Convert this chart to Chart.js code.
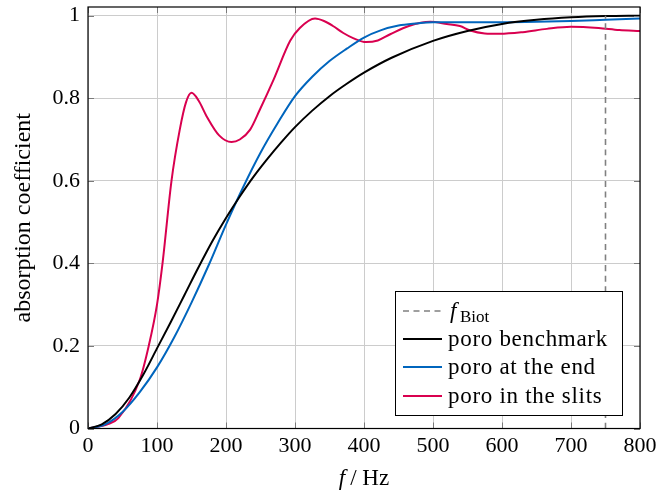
<!DOCTYPE html>
<html>
<head>
<meta charset="utf-8">
<script src="https://cdn.jsdelivr.net/npm/chart.js@4"></script>
<style>
  html, body { margin: 0; padding: 0; background: #fff; }
  #wrap { width: 660px; height: 492px; }
</style>
</head>
<body>
<div id="wrap"><canvas id="chart" width="660" height="492"></canvas></div>
<script>
// frequencies (Hz) and absorption values
const benchmarkF = [0, 20, 40, 60, 80, 100, 120, 140, 160, 180, 200, 220, 240, 260, 280, 300, 325, 350, 375, 400, 440, 500, 550, 600, 650, 700, 750, 800];
const benchmarkA = [0, 0.01, 0.035, 0.075, 0.13, 0.194, 0.258, 0.324, 0.39, 0.453, 0.51, 0.562, 0.61, 0.653, 0.693, 0.73, 0.77, 0.805, 0.835, 0.862, 0.898, 0.939, 0.963, 0.98, 0.99, 0.996, 0.999, 1.0];

const endF = [0, 25, 50, 75, 100, 125, 150, 175, 200, 225, 250, 275, 300, 325, 350, 375, 400, 425, 450, 475, 500, 600, 650, 700, 750, 800];
const endA = [0, 0.01, 0.04, 0.088, 0.148, 0.221, 0.305, 0.396, 0.494, 0.585, 0.668, 0.74, 0.805, 0.852, 0.89, 0.92, 0.947, 0.965, 0.976, 0.981, 0.984, 0.984, 0.985, 0.987, 0.99, 0.993];

const slitsF = [0, 29, 44, 75, 88, 100, 108, 121, 133, 142, 150, 160, 172, 190, 208, 220, 235, 249, 269, 293, 307, 329, 342, 355, 370, 385, 403, 420, 438, 465, 496, 520, 539, 554, 575, 597, 630, 665, 700, 740, 770, 800];
const slitsA = [0, 0.011, 0.025, 0.118, 0.2, 0.3, 0.40, 0.60, 0.724, 0.79, 0.813, 0.795, 0.756, 0.71, 0.694, 0.70, 0.724, 0.772, 0.845, 0.939, 0.97, 0.993, 0.987, 0.975, 0.958, 0.945, 0.936, 0.94, 0.955, 0.975, 0.985, 0.98, 0.975, 0.964, 0.957, 0.956, 0.96, 0.968, 0.973, 0.97, 0.965, 0.963];

const biotF = 750;
const yTicks = [0, 0.2, 0.4, 0.6, 0.8, 1];
const seriesLabels = ["f_Biot", "poro benchmark", "poro at the end", "poro in the slits"];

const FONT = "'Liberation Serif', 'Times New Roman', serif";
Chart.defaults.font.family = FONT;
Chart.defaults.font.size = 22;
Chart.defaults.color = "#000";

const toPoints = (xs, ys) => xs.map((x, i) => ({ x, y: ys[i] }));

// frame, inward ticks, legend box and x axis title
const decorations = {
  id: "decorations",
  afterDatasetsDraw(chart) {
    const { ctx, chartArea: a, scales } = chart;
    ctx.save();

    // inward tick marks
    ctx.strokeStyle = "#7a7a7a";
    ctx.lineWidth = 1;
    const len = 6;
    scales.x.ticks.forEach(t => {
      const px = Math.round(scales.x.getPixelForValue(t.value)) + 0.5;
      ctx.beginPath();
      ctx.moveTo(px, a.bottom); ctx.lineTo(px, a.bottom - len);
      ctx.moveTo(px, a.top); ctx.lineTo(px, a.top + len);
      ctx.stroke();
    });
    scales.y.ticks.forEach(t => {
      const py = Math.round(scales.y.getPixelForValue(t.value)) + 0.5;
      ctx.beginPath();
      ctx.moveTo(a.left, py); ctx.lineTo(a.left + len, py);
      ctx.moveTo(a.right, py); ctx.lineTo(a.right - len, py);
      ctx.stroke();
    });

    // frame
    ctx.strokeStyle = "#000";
    ctx.lineWidth = 1.2;
    ctx.strokeRect(a.left, a.top, a.right - a.left, a.bottom - a.top);

    // legend
    const bx = a.right - 245, by = a.bottom - 137.5, bw = 227, bh = 124;
    ctx.fillStyle = "#fff";
    ctx.fillRect(bx, by, bw, bh);
    ctx.strokeStyle = "#000";
    ctx.lineWidth = 1;
    ctx.strokeRect(bx + 0.5, by + 0.5, bw, bh);

    const rowY = [20, 48, 76, 105];
    chart.data.datasets.forEach((ds, i) => {
      const y = by + rowY[i];
      ctx.strokeStyle = ds.borderColor;
      ctx.lineWidth = ds.borderWidth;
      ctx.setLineDash(ds.borderDash || []);
      ctx.beginPath();
      ctx.moveTo(bx + 8, y); ctx.lineTo(bx + 47, y);
      ctx.stroke();
      ctx.setLineDash([]);

      ctx.fillStyle = "#000";
      ctx.textBaseline = "alphabetic";
      ctx.textAlign = "left";
      const tx = bx + 53, ty = y + 7;
      if (ds.label === "f_Biot") {
        ctx.font = "italic 23px " + FONT;
        ctx.fillText("f", tx + 2, ty);
        ctx.font = "17px " + FONT;
        ctx.fillText("Biot", tx + 12, ty + 4);
      } else {
        ctx.font = "23px " + FONT;
        ctx.letterSpacing = "0.7px";
        ctx.fillText(ds.label, tx, ty);
        ctx.letterSpacing = "0px";
      }
    });

    // x axis title: f / Hz
    const cx = (a.left + a.right) / 2;
    const ty = a.bottom + 56;
    ctx.fillStyle = "#000";
    ctx.textAlign = "left";
    ctx.font = "italic 23px " + FONT;
    const fW = ctx.measureText("f").width;
    ctx.font = "23px " + FONT;
    const restW = ctx.measureText("/ Hz").width;
    const start = cx - (fW + 5 + restW) / 2;
    ctx.font = "italic 23px " + FONT;
    ctx.fillText("f", start, ty);
    ctx.font = "23px " + FONT;
    ctx.fillText("/ Hz", start + fW + 5, ty);

    ctx.restore();
  }
};

const lineStyle = (color, width) => ({
  borderColor: color,
  backgroundColor: color,
  borderWidth: width,
  pointRadius: 0,
  fill: false,
  cubicInterpolationMode: "monotone"
});

new Chart(document.getElementById("chart"), {
  type: "line",
  data: {
    datasets: [
      { label: seriesLabels[0], data: [{ x: biotF, y: 0 }, { x: biotF, y: 1 }], ...lineStyle("#808080", 1.6), borderDash: [6, 4.5] },
      { label: seriesLabels[1], data: toPoints(benchmarkF, benchmarkA), ...lineStyle("#000000", 2) },
      { label: seriesLabels[2], data: toPoints(endF, endA), ...lineStyle("#0065bd", 2) },
      { label: seriesLabels[3], data: toPoints(slitsF, slitsA), ...lineStyle("#d9004f", 2) }
    ]
  },
  options: {
    responsive: false,
    animation: false,
    layout: { padding: { top: 7, right: 20, left: 0, bottom: 0 } },
    plugins: { legend: { display: false }, tooltip: { enabled: false } },
    scales: {
      x: {
        type: "linear",
        min: 0,
        max: 800,
        ticks: { stepSize: 100, padding: 5, maxRotation: 0 },
        grid: { color: "#cccccc", lineWidth: 1, drawTicks: false },
        border: { display: false },
        afterFit: s => { s.height = 63.5; s.paddingLeft = 0; s.paddingRight = 0; }
      },
      y: {
        type: "linear",
        min: 0,
        max: 1.021,
        afterBuildTicks: s => { s.ticks = yTicks.map(v => ({ value: v })); },
        ticks: { padding: 8, callback: v => (v === 0 || v === 1) ? String(v) : v.toFixed(1) },
        grid: { color: "#cccccc", lineWidth: 1, drawTicks: false },
        border: { display: false },
        title: { display: true, text: "absorption coefficient", font: { size: 24 }, padding: { top: 9, bottom: 0 } },
        afterFit: s => { s.width = 88; s.paddingTop = 0; s.paddingBottom = 0; }
      }
    }
  },
  plugins: [decorations]
});
</script>
</body>
</html>
